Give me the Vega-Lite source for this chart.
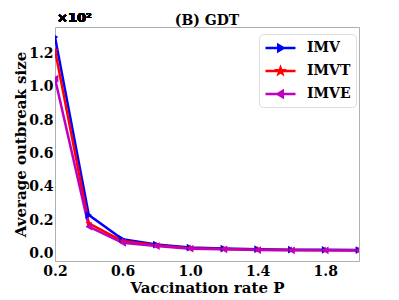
{
  "$schema": "https://vega.github.io/schema/vega-lite/v6.json",
  "width": 304,
  "height": 234,
  "autosize": {"type": "none"},
  "padding": {"left": 55, "top": 27, "right": 40, "bottom": 39},
  "background": "white",
  "title": {"text": "(B) GDT", "font": "DejaVu Serif", "fontSize": 14, "fontWeight": "bold", "color": "black", "anchor": "middle", "offset": -16},
  "config": {
    "view": {"stroke": "#b0b0b0", "strokeWidth": 1},
    "font": "DejaVu Serif"
  },
  "data": {"values": [
    {"series": "IMV", "x": 0.2, "y": 1.30},
    {"series": "IMV", "x": 0.4, "y": 0.23},
    {"series": "IMV", "x": 0.6, "y": 0.085},
    {"series": "IMV", "x": 0.8, "y": 0.053},
    {"series": "IMV", "x": 1.0, "y": 0.035},
    {"series": "IMV", "x": 1.2, "y": 0.029},
    {"series": "IMV", "x": 1.4, "y": 0.025},
    {"series": "IMV", "x": 1.6, "y": 0.022},
    {"series": "IMV", "x": 1.8, "y": 0.021},
    {"series": "IMV", "x": 2.0, "y": 0.020},
    {"series": "IMVT", "x": 0.2, "y": 1.22},
    {"series": "IMVT", "x": 0.4, "y": 0.18},
    {"series": "IMVT", "x": 0.6, "y": 0.074},
    {"series": "IMVT", "x": 0.8, "y": 0.048},
    {"series": "IMVT", "x": 1.0, "y": 0.031},
    {"series": "IMVT", "x": 1.2, "y": 0.026},
    {"series": "IMVT", "x": 1.4, "y": 0.022},
    {"series": "IMVT", "x": 1.6, "y": 0.020},
    {"series": "IMVT", "x": 1.8, "y": 0.019},
    {"series": "IMVT", "x": 2.0, "y": 0.018},
    {"series": "IMVE", "x": 0.2, "y": 1.05},
    {"series": "IMVE", "x": 0.4, "y": 0.16},
    {"series": "IMVE", "x": 0.6, "y": 0.063},
    {"series": "IMVE", "x": 0.8, "y": 0.044},
    {"series": "IMVE", "x": 1.0, "y": 0.028},
    {"series": "IMVE", "x": 1.2, "y": 0.024},
    {"series": "IMVE", "x": 1.4, "y": 0.020},
    {"series": "IMVE", "x": 1.6, "y": 0.018},
    {"series": "IMVE", "x": 1.8, "y": 0.018},
    {"series": "IMVE", "x": 2.0, "y": 0.017}
  ]},
  "encoding": {
    "x": {"field": "x", "type": "quantitative",
      "scale": {"domain": [0.2, 2.0], "nice": false, "zero": false},
      "axis": {"values": [0.2, 0.6, 1.0, 1.4, 1.8], "format": ".1f", "title": "Vaccination rate P",
        "domain": false, "ticks": false, "grid": false, "labelPadding": 3, "labelFlush": false,
        "labelFont": "DejaVu Serif", "labelFontSize": 14, "labelFontWeight": "bold", "labelColor": "black",
        "titleFont": "DejaVu Serif", "titleFontSize": 15, "titleFontWeight": "bold", "titleColor": "black", "titlePadding": 2}},
    "y": {"field": "y", "type": "quantitative",
      "scale": {"domain": [-0.046, 1.36], "nice": false, "zero": false},
      "axis": {"values": [0, 0.2, 0.4, 0.6, 0.8, 1.0, 1.2], "format": ".1f", "title": "Average outbreak size",
        "domain": false, "ticks": false, "grid": false, "labelPadding": 2, "labelFlush": false,
        "labelFont": "DejaVu Serif", "labelFontSize": 14, "labelFontWeight": "bold", "labelColor": "black",
        "titleFont": "DejaVu Serif", "titleFontSize": 15, "titleFontWeight": "bold", "titleColor": "black", "titlePadding": 0}}
  },
  "layer": [
    {
      "mark": {"type": "line", "strokeWidth": 2.5, "clip": true},
      "encoding": {
        "color": {"field": "series", "type": "nominal",
          "scale": {"domain": ["IMV", "IMVT", "IMVE"], "range": ["#0000ff", "#ff0000", "#bf00bf"]},
          "legend": {
            "title": null, "orient": "none", "legendX": 204, "legendY": 7,
            "labelFont": "DejaVu Serif", "labelFontSize": 14, "labelFontWeight": "bold", "labelColor": "black",
            "symbolSize": 225, "symbolStrokeWidth": 2.5, "symbolOffset": 7.5, "labelOffset": 17.5,
            "padding": 5, "rowPadding": 6, "fillColor": "white", "strokeColor": "#dddddd", "cornerRadius": 4,
            "encode": {"symbols": {"update": {
              "shape": {"signal": "datum.value === 'IMV' ? 'M-2,0L2,0M0.4,0L-0.3,-0.4L-0.3,0.4Z' : datum.value === 'IMVT' ? 'M-2,0L2,0M0,-0.4L0.094,-0.13L0.38,-0.124L0.152,0.05L0.236,0.324L0,0.16L-0.236,0.324L-0.152,0.05L-0.38,-0.124L-0.094,-0.13Z' : 'M-2,0L2,0M-0.4,0L0.3,-0.4L0.3,0.4Z'"},
              "fill": {"scale": "color", "field": "value"},
              "fillOpacity": {"value": 1}
            }}}
          }}
      }
    },
    {
      "transform": [{"filter": "datum.series === 'IMV'"}],
      "mark": {"type": "point", "filled": true, "size": 60, "opacity": 1, "clip": true, "shape": "triangle-right", "color": "#0000ff"}
    },
    {
      "transform": [{"filter": "datum.series === 'IMVT'"}],
      "mark": {"type": "point", "filled": true, "size": 60, "opacity": 1, "clip": true, "shape": "M0,-1L0.235,-0.324L0.951,-0.309L0.380,0.124L0.588,0.809L0,0.4L-0.588,0.809L-0.380,0.124L-0.951,-0.309L-0.235,-0.324Z", "color": "#ff0000"}
    },
    {
      "transform": [{"filter": "datum.series === 'IMVE'"}],
      "mark": {"type": "point", "filled": true, "size": 60, "opacity": 1, "clip": true, "shape": "triangle-left", "color": "#bf00bf"}
    },
    {
      "mark": {"type": "text", "align": "left", "baseline": "bottom", "dx": 2, "dy": -2, "clip": false, "font": "DejaVu Sans", "fontSize": 13, "fontWeight": "bold", "color": "black"},
      "encoding": {
        "x": {"datum": 0.2},
        "y": {"datum": 1.36},
        "text": {"value": "×10²"}
      }
    }
  ]
}
